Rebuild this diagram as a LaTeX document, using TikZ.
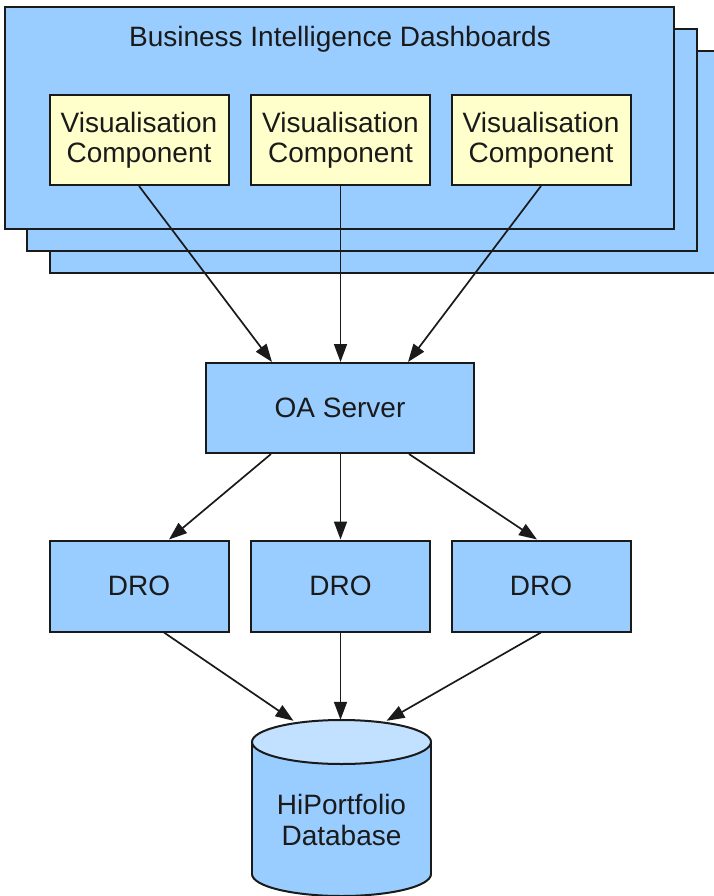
\documentclass[tikz,border=0pt]{standalone}
\usepackage{fontspec}
\setmainfont{Liberation Sans}
\usetikzlibrary{arrows.meta,calc}
\definecolor{boxblue}{HTML}{99CCFF}
\definecolor{boxyellow}{HTML}{FFFFCC}
\definecolor{toplight}{HTML}{C2E0FF}
\definecolor{ink}{HTML}{1A1A1A}
\begin{document}
\begin{tikzpicture}[x=1pt,y=-1pt,
  every node/.style={font=\fontsize{28}{30}\selectfont, align=center, inner sep=0pt, text=ink},
  layer/.style={draw=ink, fill=boxblue, line width=2pt},
  visbox/.style={draw=ink, fill=boxyellow, line width=2pt, minimum width=179pt, minimum height=90pt},
  bluebox/.style={draw=ink, fill=boxblue, line width=2pt, minimum width=179pt, minimum height=91pt},
  conn/.style={draw=ink, line width=1.7pt, -{Triangle[length=18pt,width=13pt]}}]
\useasboundingbox[fill=white] (0,0) rectangle (713,896);
% stacked dashboard layers
\draw[layer] (50,51) rectangle (722,273);
\draw[layer] (27,29) rectangle (697,251);
\node[layer, minimum width=669pt, minimum height=222pt] (bi) at (339.5,118) {};
\node (title) at (340,39) {Business Intelligence Dashboards};
% visualisation components
\node[visbox] (vis1) at (139,140) {Visualisation\\Component};
\node[visbox] (vis2) at (340.5,140) {Visualisation\\Component};
\node[visbox] (vis3) at (541,140) {Visualisation\\Component};
% server
\node[bluebox, minimum width=268pt, minimum height=90pt] (oa) at (340,408) {OA Server};
% DROs
\node[bluebox] (dro1) at (139,586) {DRO};
\node[bluebox] (dro2) at (340.5,586) {DRO};
\node[bluebox] (dro3) at (541,586) {DRO};
% database cylinder
\node[minimum width=179pt, minimum height=176pt] (db) at (341.5,808) {};
\fill[boxblue] (252,742) rectangle (431,874);
\fill[boxblue] (341.5,874) ellipse [x radius=89.5pt, y radius=22pt];
\draw[ink, line width=2pt] (252,742) -- (252,874) (431,742) -- (431,874);
\begin{scope}
  \clip (248,874) rectangle (436,900);
  \draw[ink, line width=2pt] (341.5,874) ellipse [x radius=89.5pt, y radius=22pt];
\end{scope}
\draw[ink, fill=toplight, line width=2pt] (341.5,742) ellipse [x radius=89.5pt, y radius=22pt];
\node[font=\fontsize{28}{31}\selectfont] (dbtext) at (341.5,820) {HiPortfolio\\Database};
% connectors
\draw[conn] (vis1.south) -- ($(oa.north)+(-68,0)$);
\draw[conn] (vis2.south) -- (oa.north -| vis2.south);
\draw[conn] (vis3.south) -- ($(oa.north)+(68,0)$);
\draw[conn] ($(oa.south)+(-69,0)$) -- ($(dro1.north)+(30,0)$);
\draw[conn] (oa.south -| dro2.north) -- (dro2.north);
\draw[conn] ($(oa.south)+(69,0)$) -- ($(dro3.north)+(-4,0)$);
\draw[conn] ($(dro1.south)+(25,0)$) -- ($(db.north)+(-48,1)$);
\draw[conn] (dro2.south) -- (dro2.south |- db.north);
\draw[conn] (dro3.south) -- ($(db.north)+(45,1)$);
\end{tikzpicture}
\end{document}
